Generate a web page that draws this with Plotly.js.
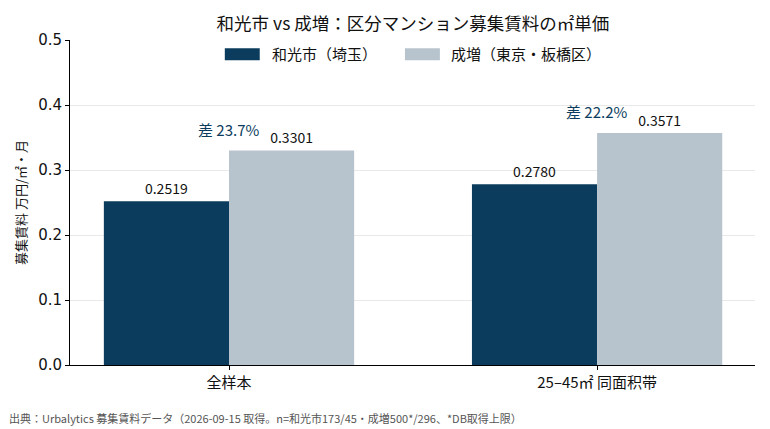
<!DOCTYPE html>
<html><head><meta charset="utf-8">
<script src="https://cdn.plot.ly/plotly-3.0.1.min.js"></script>
<style>body{margin:0;background:#fff}#c{width:770px;height:429px}</style>
</head><body><div id="c"></div>
<script>
const categories = ["全样本", "25–45㎡ 同面积带"];
const seriesNames = ["和光市（埼玉）", "成増（東京・板橋区）"];
const wakoValues = [0.2519, 0.2780];
const narimasuValues = [0.3301, 0.3571];
const yTicks = [0, 0.1, 0.2, 0.3, 0.4, 0.5];
const yTickLabels = ["0.0", "0.1", "0.2", "0.3", "0.4", "0.5"];
const titleText = "和光市 vs 成増：区分マンション募集賃料の㎡単価";
const yTitle = "募集賃料 万円/㎡・月";
const sourceNote = "出典：Urbalytics 募集賃料データ（2026-09-15 取得。n=和光市173/45・成増500*/296、*DB取得上限）";

const C1 = "#0b3c5d", C2 = "#b8c4cd";
const CJK = "'Noto Sans CJK JP', 'Noto Sans', sans-serif";

const traces = [
  {type:"bar", name:seriesNames[0], x:categories, y:wakoValues, marker:{color:C1},
   text:wakoValues.map(v=>v.toFixed(4)), textposition:"outside", cliponaxis:false,
   textfont:{family:CJK, size:14, color:"#111"}, showlegend:false},
  {type:"bar", name:seriesNames[1], x:categories, y:narimasuValues, marker:{color:C2},
   text:narimasuValues.map(v=>v.toFixed(4)), textposition:"outside", cliponaxis:false,
   textfont:{family:CJK, size:14, color:"#111"}, showlegend:false}
];

const annotations = categories.map((c,i)=>{
  const a = wakoValues[i], b = narimasuValues[i];
  const d = (b - a) / b * 100;
  return {x:c, y:Math.max(a,b), xref:"x", yref:"y", yshift:21, showarrow:false,
    text:"差 " + d.toFixed(1) + "%", font:{family:CJK, size:15, color:C1}};
});
annotations.push({xref:"paper", yref:"paper", x:0.292, y:0.957, xanchor:"left", yanchor:"middle",
  showarrow:false, text:seriesNames[0], font:{family:CJK, size:15, color:"#111"}});
annotations.push({xref:"paper", yref:"paper", x:0.553, y:0.957, xanchor:"left", yanchor:"middle",
  showarrow:false, text:seriesNames[1], font:{family:CJK, size:15, color:"#111"}});
annotations.push({xref:"paper", yref:"paper", x:-0.092, y:-0.162, xanchor:"left", yanchor:"middle",
  showarrow:false, text:sourceNote, font:{family:CJK, size:11, color:"#555"}});

const layout = {
  width:770, height:429,
  margin:{l:70, r:15, t:40, b:64},
  paper_bgcolor:"#fff", plot_bgcolor:"#fff",
  title:{text:titleText, x:0.5363, xanchor:"center", y:0.945, yanchor:"middle",
    font:{family:CJK, size:17.5, color:"#111"}},
  barmode:"group", bargap:0.32, bargroupgap:0,
  xaxis:{type:"category", range:[-0.432, 1.429], showline:true, linecolor:"#000", linewidth:1,
    ticks:"outside", ticklen:4, tickcolor:"#000", showgrid:false, zeroline:false,
    tickfont:{family:CJK, size:15, color:"#111"}},
  yaxis:{range:[0, 0.5], tickvals:yTicks, ticktext:yTickLabels, showline:true, linecolor:"#000", linewidth:1,
    ticks:"outside", ticklen:4, tickcolor:"#000", showgrid:true, gridcolor:"#e9e9e9", zeroline:false,
    tickfont:{family:"'DejaVu Sans', sans-serif", size:15, color:"#111"},
    title:{text:yTitle, font:{family:CJK, size:13, color:"#111"}, standoff:8}},
  shapes:[
    {type:"rect", xref:"paper", yref:"paper", x0:0.226, x1:0.277, y0:0.938, y1:0.975, fillcolor:C1, line:{width:0}},
    {type:"rect", xref:"paper", yref:"paper", x0:0.489, x1:0.540, y0:0.938, y1:0.975, fillcolor:C2, line:{width:0}}
  ],
  annotations:annotations
};
Plotly.newPlot("c", traces, layout, {displayModeBar:false, staticPlot:true});
</script></body></html>
